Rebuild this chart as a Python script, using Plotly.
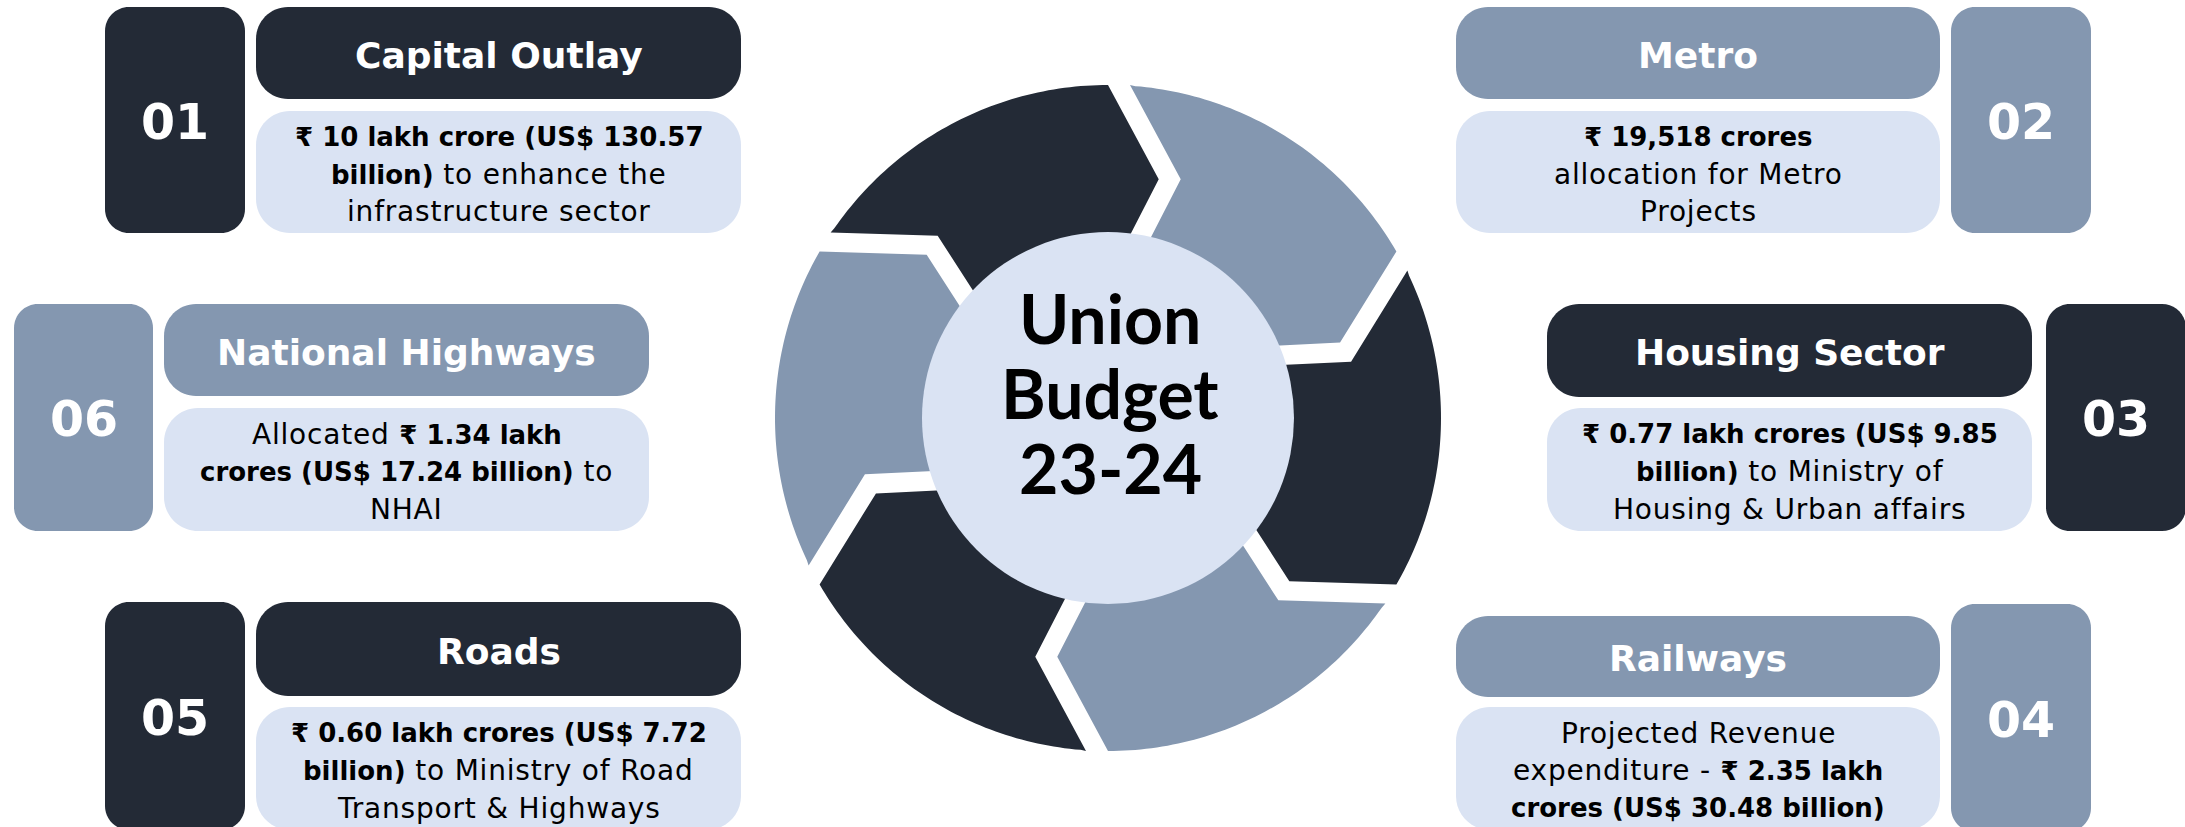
import math
import re
import plotly.graph_objects as go

W, H = 2185, 827

# ---------------- data ----------------
numbers = ["01", "02", "03", "04", "05", "06"]
titles = ["Capital Outlay", "Metro", "Housing Sector", "Railways", "Roads", "National Highways"]
desc_lines = [
    ["<b>₹ 10 lakh crore (US$ 130.57</b>", "<b>billion)</b> to enhance the", "infrastructure sector"],
    ["<b>₹ 19,518 crores</b>", "allocation for Metro", "Projects"],
    ["<b>₹ 0.77 lakh crores (US$ 9.85</b>", "<b>billion)</b> to Ministry of", "Housing & Urban affairs"],
    ["Projected Revenue", "expenditure - <b>₹ 2.35 lakh</b>", "<b>crores (US$ 30.48 billion)</b>"],
    ["<b>₹ 0.60 lakh crores (US$ 7.72</b>", "<b>billion)</b> to Ministry of Road", "Transport & Highways"],
    ["Allocated <b>₹ 1.34 lakh</b>", "<b>crores (US$ 17.24 billion)</b> to", "NHAI"],
]
center_lines = ["Union", "Budget", "23-24"]

# ---------------- styles / layout ----------------
DARK = "#232A36"
SLATE = "#8497B0"
PALE = "#DAE3F3"
card_colors = [DARK, SLATE, DARK, SLATE, DARK, SLATE]
segment_colors = [SLATE, DARK, SLATE, DARK, SLATE, DARK]  # clockwise from top

# card geometry: number box, title box, description box  (x0, x1, y0, y1)
card_geom = [
    dict(num=(105, 245, 7, 233), title=(256, 741, 7, 99), desc=(256, 741, 111, 233)),
    dict(num=(1951, 2091, 7, 233), title=(1456, 1940, 7, 99), desc=(1456, 1940, 111, 233)),
    dict(num=(2046, 2186, 304, 531), title=(1547, 2032, 304, 397), desc=(1547, 2032, 408, 531)),
    dict(num=(1951, 2091, 604, 832), title=(1456, 1940, 616, 697), desc=(1456, 1940, 707, 830)),
    dict(num=(105, 245, 602, 830), title=(256, 741, 602, 696), desc=(256, 741, 707, 830)),
    dict(num=(14, 153, 304, 531), title=(164, 649, 304, 396), desc=(164, 649, 408, 531)),
]

CX, CY = 1108, 418
R_OUT, R_TIP, R_IN, R_CORE = 333, 244, 140, 186
TIP_OFF = 12.0   # degrees
GAP = 22.0       # px

FONT = "DejaVu Sans"
REG_STYLE = "font-size:28px;letter-spacing:0.8px"


def style_regular(line):
    parts = re.split(r"(<b>.*?</b>)", line)
    out = []
    for p in parts:
        if not p:
            continue
        if p.startswith("<b>"):
            out.append(p)
        else:
            out.append(f'<span style="{REG_STYLE}">{p}</span>')
    return "".join(out)


def rrect(x0, x1, y0, y1, r):
    k = 0.5523 * r
    return (f"M{x0+r},{y0} L{x1-r},{y0} C{x1-r+k},{y0} {x1},{y0+r-k} {x1},{y0+r} "
            f"L{x1},{y1-r} C{x1},{y1-r+k} {x1-r+k},{y1} {x1-r},{y1} "
            f"L{x0+r},{y1} C{x0+r-k},{y1} {x0},{y1-r+k} {x0},{y1-r} "
            f"L{x0},{y0+r} C{x0},{y0+r-k} {x0+r-k},{y0} {x0+r},{y0} Z")


def to_screen(x, y):
    return CX + x, CY - y


def seg_path(th0, th1):
    a0, a1 = math.radians(th0), math.radians(th1)
    off = math.radians(TIP_OFF)
    tx, ty = math.sin(a0), -math.cos(a0)  # clockwise tangent
    pts = []
    s_out = (R_OUT * math.cos(a0) + GAP * tx, R_OUT * math.sin(a0) + GAP * ty)
    s_tip = (R_TIP * math.cos(a0 - off) + GAP * tx, R_TIP * math.sin(a0 - off) + GAP * ty)
    s_in = (R_IN * math.cos(a0) + GAP * tx, R_IN * math.sin(a0) + GAP * ty)
    pts.append(s_out)
    a_so = a0 - math.atan2(GAP, R_OUT)
    n = 60
    for i in range(1, n):
        a = a_so + (a1 - a_so) * i / n
        pts.append((R_OUT * math.cos(a), R_OUT * math.sin(a)))
    pts.append((R_OUT * math.cos(a1), R_OUT * math.sin(a1)))
    pts.append((R_TIP * math.cos(a1 - off), R_TIP * math.sin(a1 - off)))
    pts.append((R_IN * math.cos(a1), R_IN * math.sin(a1)))
    a_si = a0 - math.atan2(GAP, R_IN)
    for i in range(1, n):
        a = a1 + (a_si - a1) * i / n
        pts.append((R_IN * math.cos(a), R_IN * math.sin(a)))
    pts.append(s_in)
    pts.append(s_tip)
    sp = [to_screen(x, y) for x, y in pts]
    return "M" + " L".join(f"{x:.2f},{y:.2f}" for x, y in sp) + " Z"


shapes = []
for k, col in enumerate(segment_colors):
    th0 = 90 - 60 * k
    th1 = th0 - 60
    shapes.append(dict(type="path", path=seg_path(th0, th1), fillcolor=col,
                       line=dict(width=0), xref="x", yref="y", layer="above"))
shapes.append(dict(type="circle", x0=CX - R_CORE, x1=CX + R_CORE, y0=CY - R_CORE, y1=CY + R_CORE,
                   fillcolor=PALE, line=dict(width=0), xref="x", yref="y", layer="above"))

annotations = []
for i, g in enumerate(card_geom):
    col = card_colors[i]
    nx0, nx1, ny0, ny1 = g["num"]
    tx0, tx1, ty0, ty1 = g["title"]
    dx0, dx1, dy0, dy1 = g["desc"]
    shapes.append(dict(type="path", path=rrect(nx0, nx1, ny0, ny1, 24), fillcolor=col,
                       line=dict(width=0), xref="x", yref="y", layer="above"))
    shapes.append(dict(type="path", path=rrect(tx0, tx1, ty0, ty1, 32), fillcolor=col,
                       line=dict(width=0), xref="x", yref="y", layer="above"))
    shapes.append(dict(type="path", path=rrect(dx0, dx1, dy0, dy1, 34), fillcolor=PALE,
                       line=dict(width=0), xref="x", yref="y", layer="above"))
    annotations.append(dict(x=(nx0 + nx1) / 2, y=(ny0 + ny1) / 2 + 2, text=f"<b>{numbers[i]}</b>",
                            showarrow=False, xref="x", yref="y", xanchor="center", yanchor="middle",
                            font=dict(family=FONT, size=49, color="white")))
    annotations.append(dict(x=(tx0 + tx1) / 2, y=(ty0 + ty1) / 2 + 2, text=f"<b>{titles[i]}</b>",
                            showarrow=False, xref="x", yref="y", xanchor="center", yanchor="middle",
                            font=dict(family=FONT, size=36, color="white")))
    dc = (dy0 + dy1) / 2 + 2
    for j, line in enumerate(desc_lines[i]):
        annotations.append(dict(x=(dx0 + dx1) / 2, y=dc + (j - 1) * 37.5, text=style_regular(line),
                                showarrow=False, xref="x", yref="y", xanchor="center",
                                yanchor="middle",
                                font=dict(family=FONT, size=26, color="black")))

for j, line in enumerate(center_lines):
    annotations.append(dict(x=CX + 2, y=CY - 26 + (j - 1) * 75, text=f"<b>{line}</b>",
                            showarrow=False, xref="x", yref="y", xanchor="center", yanchor="middle",
                            font=dict(family="Lato", size=68, color="black")))

fig = go.Figure()
fig.update_layout(
    width=W, height=H,
    margin=dict(l=0, r=0, t=0, b=0),
    paper_bgcolor="white", plot_bgcolor="white",
    xaxis=dict(range=[0, W], visible=False, fixedrange=True),
    yaxis=dict(range=[H, 0], visible=False, fixedrange=True),
    shapes=shapes,
    annotations=annotations,
    showlegend=False,
)

fig.write_html("out.html", config={"displayModeBar": False},
               post_script="document.body.style.margin='0';document.body.style.overflow='hidden';")
